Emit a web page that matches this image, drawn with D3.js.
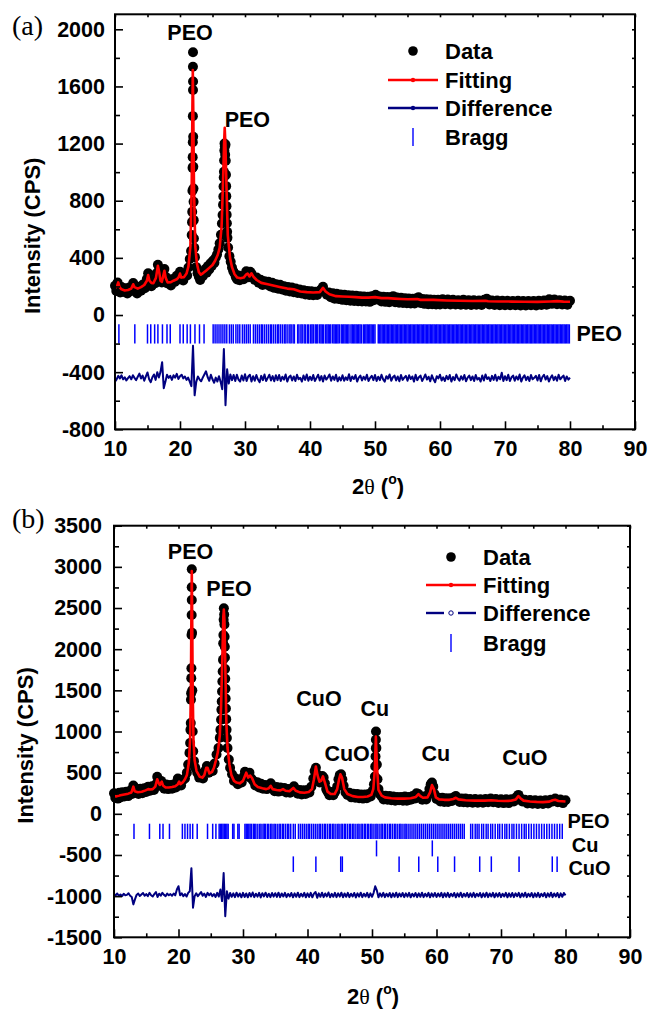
<!DOCTYPE html>
<html lang="en">
<head>
<meta charset="UTF-8">
<title>XRD refinement PEO / Cu / CuO</title>
<script src="https://cdn.jsdelivr.net/npm/d3@7"></script>
<style>
    body { margin: 0; background: #fff; }
    svg { display: block; }
    text { font-family: Arial, "Liberation Sans", sans-serif; font-weight: bold; fill: #000; }
    .serif { font-family: "Times New Roman", "Liberation Serif", serif; font-weight: normal; }
</style>
</head>
<body>
<script>
/*-------------------------------------------------------*/
/*------------------- data, panel (a) -------------------*/
/*-------------------------------------------------------*/
// observed points [2theta, counts]
const obsA = [
[10.0,205],[10.2,168],[10.4,228],[10.6,186],[10.8,158],[11.0,196],[11.3,162],[11.6,188],[11.9,150],[12.2,192],
[12.5,168],[12.8,224],[13.1,178],[13.4,150],[13.7,198],[14.0,170],[14.3,214],[14.6,188],[14.9,252],[15.1,292],
[15.3,236],[15.6,202],[15.9,244],[16.2,222],[16.4,292],[16.6,352],[16.8,318],[17.0,248],[17.2,228],[17.4,292],
[17.6,322],[17.8,268],[18.0,222],[18.3,248],[18.6,206],[18.9,252],[19.2,232],[19.5,274],[19.8,248],[20.0,302],
[20.2,268],[20.5,242],[20.8,292],[21.1,276],[21.3,332],[21.5,392],[21.7,448],[21.8,560],[21.85,650],[21.88,722],
[21.91,870],[21.93,1030],[21.95,1105],[21.97,1210],[21.98,1392],[22.0,1575],[22.01,1634],[21.99,1738],[22.0,1839],[22.03,1248],
[22.05,1038],[22.07,886],[22.09,792],[22.11,664],[22.14,536],[22.2,470],[22.3,405],[22.5,335],[22.7,292],[22.9,268],
[23.1,245],[23.3,292],[23.5,272],[23.7,302],[23.9,322],[24.1,296],[24.3,342],[24.5,318],[24.7,362],[24.9,344],
[25.1,382],[25.3,366],[25.5,402],[25.7,424],[25.9,458],[26.1,502],[26.3,562],[26.45,640],[26.55,700],[26.62,772],
[26.67,830],[26.7,900],[26.73,962],[26.76,1002],[26.79,1082],[26.82,1152],[26.85,1201],[26.9,1180],[26.95,1122],[27.0,1192],
[27.04,1080],[27.07,982],[27.1,902],[27.12,832],[27.15,762],[27.18,702],[27.21,642],[27.25,582],[27.3,540],[27.4,472],
[27.6,412],[27.8,372],[28.0,332],[28.2,306],[28.4,290],[28.6,264],[28.8,248],[29.0,276],[29.2,244],[29.5,266],
[29.8,250],[30.0,282],[30.2,306],[30.4,300],[30.6,264],[30.8,302],[31.0,290],[31.2,268],[31.5,246],[31.8,262],
[32.1,226],[32.4,246],[32.7,210],[33.0,236],[33.3,214],[33.6,232],[33.9,200],[34.2,226],[34.5,190],[34.8,216],
[35.1,184],[35.4,212],[35.7,178],[36.0,202],[36.3,170],[36.6,196],[36.9,164],[37.2,192],[37.5,160],[37.8,186],
[38.1,154],[38.4,178],[38.7,150],[39.0,174],[39.3,144],[39.6,168],[39.9,140],[40.2,166],[40.5,138],[40.8,162],
[41.1,140],[41.4,166],[41.7,178],[42.0,198],[42.3,162],[42.6,142],[42.9,158],[43.2,124],[43.5,152],[43.8,114],
[44.1,148],[44.4,112],[44.7,144],[45.0,106],[45.3,142],[45.6,104],[45.9,138],[46.2,100],[46.5,136],[46.8,98],
[47.1,134],[47.4,96],[47.7,132],[48.0,94],[48.3,130],[48.6,94],[48.9,128],[49.2,92],[49.5,132],[49.8,104],
[50.1,142],[50.4,108],[50.7,130],[51.0,94],[51.3,128],[51.6,92],[51.9,126],[52.2,90],[52.5,124],[52.8,132],
[53.1,90],[53.4,122],[53.7,86],[54.0,120],[54.3,84],[54.6,118],[54.9,82],[55.2,116],[55.5,80],[55.8,114],
[56.1,80],[56.4,118],[56.7,124],[57.0,84],[57.3,112],[57.6,78],[57.9,110],[58.2,76],[58.5,108],[58.8,76],
[59.1,106],[59.4,74],[59.7,106],[60.0,74],[60.4,110],[60.8,76],[61.2,108],[61.6,74],[62.0,106],[62.4,74],
[62.8,104],[63.2,72],[63.6,106],[64.0,72],[64.4,104],[64.8,70],[65.2,104],[65.6,72],[66.0,102],[66.4,70],
[66.8,106],[67.2,114],[67.6,74],[68.0,102],[68.4,70],[68.8,102],[69.2,68],[69.6,100],[70.0,68],[70.4,100],
[70.8,68],[71.2,98],[71.6,68],[72.0,100],[72.4,66],[72.8,98],[73.2,66],[73.6,98],[74.0,68],[74.4,98],
[74.8,66],[75.2,100],[75.6,70],[76.0,102],[76.4,72],[76.8,110],[77.2,78],[77.6,108],[78.0,76],[78.4,104],
[78.8,74],[79.2,102],[79.6,72],[80.0,100]
];

// calculated profile [2theta, counts]
const fitA = [
[10.0,190],[10.3,200],[10.5,228],[10.7,195],[11.0,180],[11.5,172],[12.0,175],[12.5,185],[12.8,215],[13.0,195],
[13.5,185],[14.0,195],[14.5,210],[14.9,240],[15.1,280],[15.3,240],[15.6,225],[15.9,222],[16.3,260],[16.6,345],
[16.8,300],[17.0,240],[17.2,232],[17.4,270],[17.6,310],[17.8,260],[18.1,228],[18.6,230],[19.0,240],[19.5,250],
[19.8,265],[20.0,290],[20.2,262],[20.6,265],[21.0,290],[21.3,340],[21.6,480],[21.8,900],[21.9,1400],[21.97,1715],
[22.05,1400],[22.15,900],[22.35,480],[22.6,360],[22.9,300],[23.2,282],[23.6,295],[24.0,310],[24.5,330],[25.0,350],
[25.4,380],[25.8,420],[26.1,470],[26.4,620],[26.6,900],[26.78,1200],[26.88,1310],[26.98,1200],[27.15,900],[27.35,560],
[27.7,400],[28.0,335],[28.4,285],[28.8,262],[29.3,258],[29.8,262],[30.2,285],[30.4,290],[30.7,270],[31.0,292],
[31.3,268],[31.8,245],[32.5,225],[33.5,215],[34.5,205],[35.5,195],[36.5,185],[37.5,180],[38.5,165],[39.5,160],
[40.5,158],[41.5,160],[42.0,190],[42.4,165],[43.0,145],[44.0,132],[45.0,130],[46.0,128],[47.0,125],[48.0,122],
[49.0,122],[50.0,125],[51.0,118],[52.0,118],[53.0,115],[54.0,112],[55.0,110],[56.5,112],[57.0,106],[59.0,106],
[61.0,102],[63.0,100],[65.0,98],[67.0,100],[67.4,96],[69.0,95],[71.0,94],[73.0,93],[75.0,92],[77.0,95],
[78.0,97],[79.0,94],[80.0,93]
];

// difference curve, scan 10 -> 80 deg, step 0.25 deg
const diffA_start = 10, diffA_step = 0.25;
const diffA = [
-466,-450,-426,-444,-422,-450,-436,-458,-442,-428,-450,-422,-440,-456,-432,-410,-444,-424,-460,-430,
-402,-450,-470,-436,-416,-454,-400,-438,-398,-330,-512,-468,-418,-440,-426,-454,-422,-438,-412,-448,
-428,-418,-444,-430,-454,-438,-466,-498,-215,-562,-468,-430,-450,-464,-438,-416,-394,-434,-460,-418,
-450,-474,-438,-466,-428,-468,-520,-238,-632,-380,-480,-416,-456,-420,-462,-418,-452,-466,-424,-458,
-414,-462,-430,-418,-466,-428,-460,-420,-452,-470,-426,-456,-416,-462,-440,-418,-458,-428,-464,-422,
-456,-420,-462,-432,-452,-416,-466,-436,-424,-458,-430,-462,-418,-450,-440,-466,-424,-454,-416,-460,
-432,-456,-420,-462,-440,-418,-458,-428,-466,-424,-452,-436,-416,-460,-430,-454,-418,-464,-436,-458,
-422,-460,-436,-454,-414,-462,-430,-448,-420,-466,-438,-424,-458,-432,-452,-418,-462,-440,-426,-456,
-420,-462,-432,-456,-418,-450,-466,-428,-446,-416,-460,-436,-424,-458,-430,-464,-420,-454,-438,-426,
-460,-422,-448,-430,-466,-418,-456,-436,-424,-462,-440,-416,-452,-432,-464,-422,-450,-470,-428,-444,
-418,-458,-436,-462,-426,-450,-420,-466,-434,-456,-416,-444,-460,-428,-452,-420,-464,-438,-424,-456,
-430,-462,-420,-452,-440,-466,-424,-458,-416,-448,-436,-462,-426,-454,-418,-460,-432,-450,-404,-462,
-428,-456,-418,-462,-436,-424,-460,-430,-452,-416,-466,-438,-422,-456,-432,-462,-420,-450,-440,-426,
-458,-420,-464,-434,-418,-452,-428,-466,-440,-422,-456,-432,-460,-418,-450,-436,-424,-462,-430,-452,
-438
];

// PEO Bragg positions (deg)
const braggA_PEO = [
10.6,13.05,15.0,15.5,16.1,16.6,17.3,18.0,18.5,20.0,20.5,21.1,21.6,22.3,23.0,23.7,
25.1,25.4,25.7,26.0,26.3,26.6,26.9,27.2,27.6,27.9,28.2,28.6,28.9,29.2,29.6,29.9,30.2,30.5,30.8,31.3,
31.6,31.9,32.2,32.5,32.7,33.0,33.3,33.6,33.9,34.1,34.4,34.7,35.0,35.2,35.5,35.8,36.1,36.3,36.6,36.9,
37.1,37.4,37.6,38.1,38.3,38.6,38.8,39.1,39.3,39.6,39.8,40.1,40.3,40.5,40.8,41.0,41.2,41.5,41.7,41.9,
42.1,42.4,42.6,42.8,43.0,43.2,43.5,43.7,43.9,44.1,44.3,44.5,44.8,45.0,45.2,45.4,45.6,45.8,46.0,46.3,
46.5,46.7,46.9,47.1,47.3,47.5,47.7,47.9,48.2,48.4,48.6,48.8,49.0,49.2,49.4,49.6,49.8,50.0,
50.5,50.7,50.9,51.1,51.3,51.5,51.7,51.9,52.1,52.3,52.5,52.7,52.9,53.1,53.3,53.5,53.7,53.9,54.1,54.3,54.5,
54.7,54.9,55.1,55.3,55.5,55.7,55.9,56.1,56.3,56.5,56.7,56.9,57.1,57.3,57.5,57.7,57.9,58.1,58.3,58.5,
58.7,58.9,59.1,59.3,59.5,59.7,59.9,60.1,60.3,60.5,60.7,60.9,61.1,61.3,61.5,61.7,61.9,62.1,62.3,62.5,
62.7,62.9,63.1,63.3,63.5,63.7,63.9,64.1,64.3,64.5,64.7,64.9,65.1,65.3,65.5,65.7,65.9,66.1,66.3,66.5,
66.7,66.9,67.1,67.3,67.5,67.7,67.9,68.1,68.3,68.5,68.7,68.9,69.1,69.3,69.5,69.7,69.9,70.1,70.3,70.5,
70.7,70.9,71.1,71.3,71.5,71.7,71.9,72.1,72.3,72.5,72.7,72.9,73.1,73.3,73.5,73.7,73.9,74.1,74.3,74.5,
74.7,74.9,75.1,75.3,75.5,75.7,75.9,76.1,76.3,76.5,76.7,76.9,77.1,77.3,77.5,77.7,77.9,78.1,78.3,78.5,
78.7,78.9,79.1,79.3,79.5,79.7,79.9
];

/*-------------------------------------------------------*/
/*------------------- data, panel (b) -------------------*/
/*-------------------------------------------------------*/
const obsB = [
[10.0,250],[10.2,195],[10.4,240],[10.6,185],[10.8,255],[11.0,200],[11.3,262],[11.6,210],[11.9,268],[12.2,215],
[12.5,280],[12.8,240],[13.0,345],[13.2,260],[13.5,300],[13.8,240],[14.1,305],[14.4,250],[14.7,310],[15.0,265],
[15.3,330],[15.6,280],[15.9,335],[16.2,290],[16.5,360],[16.7,450],[16.9,410],[17.1,340],[17.3,400],[17.5,370],
[17.8,305],[18.1,355],[18.4,300],[18.7,350],[19.0,305],[19.3,360],[19.6,320],[19.9,430],[20.1,400],[20.4,345],
[20.7,410],[21.0,430],[21.3,500],[21.5,600],[21.7,740],[21.8,860],[21.85,1020],[21.9,1102],[21.93,1385],[21.96,1466],
[21.98,1648],[22.0,1769],[22.02,2173],[22.04,2416],[22.06,2598],[22.05,2752],[22.06,2970],[22.1,2200],[22.14,1500],[22.2,1000],
[22.28,760],[22.4,640],[22.6,560],[22.9,500],[23.2,440],[23.5,480],[23.8,430],[24.1,520],[24.4,580],[24.7,500],
[25.0,540],[25.3,520],[25.6,610],[25.9,720],[26.2,800],[26.4,924],[26.5,1020],[26.6,1142],[26.65,1263],[26.7,1364],
[26.75,1486],[26.8,1607],[26.85,1728],[26.9,1870],[26.93,2072],[26.96,2173],[27.0,2356],[27.03,2498],[27.08,2420],[27.12,2300],
[27.15,2150],[27.18,2030],[27.2,1900],[27.22,1760],[27.25,1640],[27.28,1520],[27.31,1400],[27.35,1280],[27.4,1150],[27.45,1020],
[27.5,920],[27.6,800],[27.8,660],[28.0,560],[28.3,480],[28.6,400],[28.9,430],[29.2,360],[29.5,400],[29.8,380],
[30.1,450],[30.3,510],[30.5,490],[30.8,450],[31.0,500],[31.3,430],[31.6,400],[31.9,345],[32.2,385],[32.5,320],
[32.8,365],[33.1,305],[33.4,350],[33.7,300],[34.0,335],[34.3,370],[34.6,310],[34.9,275],[35.2,325],[35.5,270],
[35.8,320],[36.1,280],[36.4,315],[36.7,260],[37.0,300],[37.3,255],[37.6,300],[37.9,335],[38.2,290],[38.5,245],
[38.8,290],[39.1,235],[39.4,285],[39.7,240],[40.0,290],[40.3,260],[40.6,330],[40.9,430],[41.1,520],[41.3,560],
[41.5,480],[41.7,420],[41.9,380],[42.1,430],[42.3,460],[42.5,440],[42.7,370],[42.9,300],[43.1,270],[43.4,225],
[43.7,265],[44.0,225],[44.3,270],[44.6,330],[44.8,420],[45.0,470],[45.2,480],[45.4,420],[45.6,340],[45.9,260],
[46.2,230],[46.5,255],[46.8,200],[47.1,245],[47.4,195],[47.7,240],[48.0,190],[48.3,235],[48.6,185],[48.9,235],
[49.2,190],[49.5,240],[49.8,210],[50.1,280],[50.3,360],[50.45,454],[50.5,575],[50.55,697],[50.6,798],[50.6,899],
[50.62,1000],[50.68,800],[50.75,600],[50.85,420],[51.0,300],[51.2,240],[51.5,210],[51.8,175],[52.1,220],[52.4,170],
[52.7,215],[53.0,165],[53.3,210],[53.6,160],[53.9,205],[54.2,165],[54.5,205],[54.8,160],[55.1,210],[55.4,160],
[55.7,205],[56.0,170],[56.3,215],[56.6,185],[56.9,250],[57.2,240],[57.5,200],[57.8,170],[58.1,210],[58.4,175],
[58.7,230],[58.9,300],[59.1,360],[59.3,380],[59.5,330],[59.7,240],[60.0,180],[60.3,195],[60.6,150],[60.9,195],
[61.2,145],[61.5,190],[61.8,145],[62.1,190],[62.4,155],[62.7,200],[63.0,215],[63.3,175],[63.6,145],[63.9,185],
[64.2,140],[64.5,185],[64.8,138],[65.2,180],[65.6,135],[66.0,180],[66.4,135],[66.8,178],[67.2,135],[67.6,180],
[68.0,140],[68.4,185],[68.8,140],[69.2,180],[69.6,132],[70.0,176],[70.4,130],[70.8,176],[71.2,130],[71.6,178],
[72.0,150],[72.4,205],[72.7,230],[73.0,190],[73.3,150],[73.7,170],[74.1,125],[74.5,168],[74.9,122],[75.3,165],
[75.7,120],[76.1,162],[76.5,120],[76.9,164],[77.3,125],[77.7,172],[78.0,150],[78.4,185],[78.8,140],[79.2,175],
[79.6,130],[80.0,165]
];

const fitB = [
[10.0,215],[10.4,212],[11.0,225],[11.6,235],[12.2,245],[12.7,260],[13.0,330],[13.2,275],[13.7,262],[14.3,268],
[14.9,285],[15.3,300],[15.6,295],[16.0,300],[16.4,330],[16.7,420],[16.9,380],[17.1,350],[17.4,390],[17.6,345],
[18.0,320],[18.5,320],[19.0,325],[19.5,335],[19.9,360],[20.1,390],[20.3,360],[20.7,385],[21.0,420],[21.3,470],
[21.6,620],[21.8,900],[21.92,1500],[21.99,2300],[22.06,2950],[22.13,2300],[22.2,1500],[22.32,900],[22.5,650],[22.8,520],
[23.3,450],[23.7,440],[24.0,470],[24.3,560],[24.5,560],[24.8,490],[25.2,510],[25.5,560],[25.8,650],[26.1,750],
[26.4,950],[26.6,1300],[26.8,1900],[26.95,2400],[27.03,2480],[27.12,2350],[27.28,1700],[27.42,1100],[27.6,800],[27.9,600],
[28.2,470],[28.6,400],[29.0,380],[29.5,370],[30.0,400],[30.3,460],[30.5,500],[30.8,440],[31.1,465],[31.4,435],
[31.8,360],[32.3,325],[33.0,310],[33.6,300],[34.0,310],[34.3,340],[34.6,300],[35.2,290],[35.8,285],[36.2,300],
[36.6,280],[37.2,275],[37.8,315],[38.2,280],[38.8,260],[39.5,255],[40.2,265],[40.7,300],[41.0,420],[41.3,575],
[41.55,470],[41.85,390],[42.1,400],[42.4,455],[42.7,380],[43.1,270],[43.6,240],[44.2,240],[44.6,300],[44.9,420],
[45.1,480],[45.35,440],[45.7,300],[46.2,240],[47.0,215],[47.8,205],[48.6,205],[49.3,210],[49.9,230],[50.2,300],
[50.45,550],[50.6,940],[50.75,600],[51.0,290],[51.5,220],[52.0,200],[53.0,190],[54.0,185],[55.0,185],[56.0,190],
[56.8,205],[57.2,240],[57.5,215],[57.9,195],[58.6,200],[59.0,260],[59.3,350],[59.6,300],[59.9,200],[60.4,175],
[61.2,170],[62.0,170],[62.6,180],[63.0,195],[63.4,175],[64.5,165],[66.0,160],[67.5,160],[68.5,165],[69.5,158],
[70.5,155],[71.5,158],[72.3,175],[72.7,215],[73.0,190],[73.5,160],[74.5,150],[75.5,145],[76.5,142],[77.5,148],
[78.0,165],[78.4,170],[78.9,155],[80.0,150]
];

const diffB_start = 10, diffB_step = 0.25;
const diffB = [
-975,-990,-968,-995,-980,-1000,-972,-990,-985,-965,-995,-1010,-1100,-1040,-985,-968,-998,-980,-962,-995,
-975,-1000,-960,-990,-1005,-975,-950,-1010,-970,-995,-960,-985,-1000,-970,-990,-975,-995,-968,-990,-920,
-880,-990,-965,-1000,-975,-1005,-960,-940,-660,-1140,-1000,-965,-1000,-975,-950,-995,-970,-1010,-960,-990,
-965,-1000,-975,-1010,-960,-1005,-920,-1060,-720,-1245,-940,-1030,-962,-1008,-966,-1012,-958,-1006,-968,-1014,
-960,-1010,-968,-1014,-962,-1004,-956,-1012,-970,-1006,-960,-1016,-964,-1004,-958,-1010,-970,-1012,-962,-1006,
-964,-1010,-958,-1012,-968,-1004,-960,-1012,-972,-1004,-962,-1014,-966,-1008,-958,-1012,-970,-1004,-960,-1014,
-966,-1010,-960,-1014,-970,-950,-1020,-966,-1008,-958,-1012,-968,-1004,-956,-1014,-972,-1008,-960,-1012,-966,
-1006,-958,-1014,-968,-1008,-960,-1012,-970,-1004,-962,-1016,-966,-1006,-958,-1012,-970,-1004,-960,-1014,-966,
-1008,-960,-880,-930,-1014,-966,-1006,-960,-1012,-970,-1004,-962,-1014,-966,-1008,-958,-1012,-968,-1004,-962,
-1012,-966,-1006,-960,-1014,-970,-1004,-962,-1012,-966,-1008,-958,-1012,-970,-1004,-960,-1014,-966,-1006,-962,
-1010,-968,-1004,-960,-1014,-964,-1008,-960,-1012,-970,-1002,-962,-1014,-966,-1006,-958,-1012,-970,-1004,-962,
-1012,-966,-1008,-960,-1012,-970,-1002,-962,-1014,-966,-1008,-958,-1012,-968,-1004,-960,-1014,-966,-1006,-962,
-1012,-970,-1004,-960,-1014,-966,-1008,-962,-1012,-966,-1002,-960,-1014,-968,-1006,-958,-1012,-970,-1004,-962,
-1014,-966,-1008,-960,-1012,-970,-1002,-962,-1014,-966,-1006,-958,-1012,-968,-1004,-962,-1014,-966,-1008,-962,
-990
];

const braggB_PEO = [
13.1,15.5,17.1,17.6,18.6,20.6,21.0,21.4,21.8,22.2,22.9,24.5,25.3,25.8,
26.3,26.5,26.7,26.9,27.1,27.3,27.5,27.7,28.4,28.6,29.2,29.4,30.3,30.5,30.7,30.9,31.1,31.3,31.6,31.8,
32.0,32.3,32.6,32.8,33.1,33.3,33.5,33.8,34.0,34.3,34.5,34.8,35.0,35.3,35.6,35.8,36.1,36.3,36.6,36.9,
37.1,37.4,37.8,38.1,38.6,38.9,39.2,39.5,39.8,40.1,40.3,40.6,40.9,41.2,41.5,41.8,42.0,42.3,42.6,42.8,
43.1,43.4,43.6,43.9,44.1,44.4,44.7,44.9,45.2,45.4,45.7,45.9,46.2,46.5,46.7,47.0,47.2,47.5,47.8,48.0,
48.3,48.5,48.8,49.0,49.3,49.5,49.8,50.0,50.3,50.6,50.8,51.1,51.4,51.6,51.9,52.1,52.4,52.7,52.9,53.2,
53.5,53.7,54.0,54.3,54.5,54.8,55.1,55.3,55.6,55.9,56.2,56.5,56.8,57.1,57.4,57.7,58.0,58.3,58.6,58.9,
59.2,59.5,59.8,60.1,60.4,60.7,61.0,61.3,61.6,61.9,62.2,62.5,62.8,63.1,63.4,63.7,64.0,64.3,
65.3,65.6,66.0,66.3,66.6,67.0,67.3,67.7,68.0,68.4,68.7,69.1,69.5,69.8,70.2,70.6,70.9,71.3,71.7,72.0,
72.4,72.8,73.2,73.6,73.9,74.3,74.7,75.1,75.5,75.9,76.3,76.7,77.1,77.5,77.9,78.3,78.7,79.1,79.5
];
const braggB_Cu = [50.7, 59.35];
const braggB_CuO = [37.8, 41.3, 45.15, 45.4, 54.2, 57.25, 60.2, 62.8, 66.7, 68.5, 72.8, 77.95, 78.7];

// axis ticks
const xTicks = [10, 20, 30, 40, 50, 60, 70, 80, 90];
const yTicksA = [-800, -400, 0, 400, 800, 1200, 1600, 2000];
const yTicksB = [-1500, -1000, -500, 0, 500, 1000, 1500, 2000, 2500, 3000, 3500];

// peak / phase labels [text, 2theta, counts]
const labelsA = [["PEO", 21.55, 1979], ["PEO", 30.36, 1370]];
const phaseLabelsA = [["PEO", 81.0, -132]];
const labelsB = [["PEO", 21.87, 3181], ["PEO", 27.83, 2732], ["CuO", 41.78, 1397], ["Cu", 50.45, 1276],
                 ["CuO", 46.14, 730], ["Cu", 59.9, 730], ["CuO", 73.7, 681]];
const phaseLabelsB = [["PEO", 80.3, -86], ["Cu", 80.96, -378], ["CuO", 80.45, -660]];

/*-------------------------------------------------------*/
/*------------------------ drawing ----------------------*/
/*-------------------------------------------------------*/
const svg = d3.select("body").append("svg")
    .attr("width", 648)
    .attr("height", 1010);

function drawPanel(p) {
    const x = d3.scaleLinear().domain([10, 90]).range([p.left, p.right]);
    const y = d3.scaleLinear().domain(p.yDomain).range([p.bottom, p.top]);
    const g = svg.append("g");

    // observed points
    g.append("g").selectAll("circle")
        .data(p.obs)
        .join("circle")
        .attr("cx", d => x(d[0]))
        .attr("cy", d => y(d[1]))
        .attr("r", 5)
        .attr("fill", "#000");

    const line = d3.line().x(d => x(d[0])).y(d => y(d[1]));

    // fitted profile
    g.append("path")
        .datum(p.fit)
        .attr("d", line)
        .attr("fill", "none")
        .attr("stroke", "#ff0000")
        .attr("stroke-width", 2.6)
        .attr("stroke-linejoin", "round");

    // difference
    const diffPts = p.diff.map((v, i) => [p.diffStart + i * p.diffStep, v]);
    g.append("path")
        .datum(diffPts)
        .attr("d", line)
        .attr("fill", "none")
        .attr("stroke", "#000080")
        .attr("stroke-width", 2)
        .attr("stroke-linejoin", "round");

    // bragg ticks
    p.bragg.forEach(b => {
        g.append("g").selectAll("line")
            .data(b.pos)
            .join("line")
            .attr("x1", d => x(d)).attr("x2", d => x(d))
            .attr("y1", y(b.hi)).attr("y2", y(b.lo))
            .attr("stroke", "#0000ff")
            .attr("stroke-width", 1.5);
    });

    // labels on peaks and next to tick rows
    g.append("g").selectAll("text")
        .data(p.labels)
        .join("text")
        .attr("x", d => x(d[1]))
        .attr("y", d => y(d[2]))
        .attr("dy", "0.35em")
        .attr("text-anchor", "middle")
        .attr("font-size", 21.5)
        .text(d => d[0]);
    g.append("g").selectAll("text")
        .data(p.phaseLabels)
        .join("text")
        .attr("x", d => x(d[1]))
        .attr("y", d => y(d[2]))
        .attr("dy", "0.35em")
        .attr("font-size", p.phaseSize)
        .text(d => d[0]);

    // axes
    const styleAxis = sel => {
        sel.select(".domain").remove();
        sel.selectAll("line").attr("stroke", "#000").attr("stroke-width", 1.6);
        sel.selectAll("text")
            .attr("font-size", 21.5)
            .attr("font-family", "Arial, 'Liberation Sans', sans-serif")
            .attr("font-weight", "bold");
    };
    const fmt = d => String(d);
    const xMinor = d3.range(15, 90, 10);
    const yMinor = d3.range(p.yDomain[0] + p.yStep / 2, p.yTicks[p.yTicks.length - 1], p.yStep);
    const xAll = d3.range(10, 91, 5);

    g.append("g").attr("transform", `translate(0,${p.bottom})`)
        .call(d3.axisBottom(x).tickValues(xTicks).tickSize(-8).tickPadding(11).tickFormat(fmt))
        .call(styleAxis);
    g.append("g").attr("transform", `translate(0,${p.bottom})`)
        .call(d3.axisBottom(x).tickValues(xMinor).tickSize(-4).tickFormat(""))
        .call(styleAxis);
    g.append("g").attr("transform", `translate(${p.left},0)`)
        .call(d3.axisLeft(y).tickValues(p.yTicks).tickSize(-8).tickPadding(p.yPad).tickFormat(fmt))
        .call(styleAxis);
    g.append("g").attr("transform", `translate(${p.left},0)`)
        .call(d3.axisLeft(y).tickValues(yMinor).tickSize(-5).tickFormat(""))
        .call(styleAxis);
    g.append("g").attr("transform", `translate(0,${p.top})`)
        .call(d3.axisTop(x).tickValues(xAll).tickSize(-3).tickFormat(""))
        .call(styleAxis);
    g.append("g").attr("transform", `translate(${p.right},0)`)
        .call(d3.axisRight(y).tickValues(p.yTicks.concat(yMinor)).tickSize(-3).tickFormat(""))
        .call(styleAxis);

    g.append("rect")
        .attr("x", p.left).attr("y", p.top)
        .attr("width", p.right - p.left).attr("height", p.bottom - p.top)
        .attr("fill", "none").attr("stroke", "#000").attr("stroke-width", 2);

    // axis titles
    g.append("text")
        .attr("transform", `translate(${p.yTitleX},${(p.top + p.bottom) / 2 + 14}) rotate(-90)`)
        .attr("text-anchor", "middle")
        .attr("dy", "0.35em")
        .attr("font-size", 22)
        .text("Intensity (CPS)");

    const xt = g.append("text")
        .attr("x", p.xTitleX)
        .attr("y", p.xTitleY)
        .attr("text-anchor", "middle")
        .attr("font-size", 22);
    xt.append("tspan").text("2");
    xt.append("tspan").attr("class", "serif").text("\u03b8");
    xt.append("tspan").text(" (");
    xt.append("tspan").attr("font-size", 14).attr("dy", -10).text("o");
    xt.append("tspan").attr("dy", 10).text(")");

    // panel letter
    g.append("text")
        .attr("class", "serif")
        .attr("x", 12)
        .attr("y", p.letterY)
        .attr("font-size", 28)
        .text(p.letter);

    // legend
    const L = p.legend;
    const rows = ["Data", "Fitting", "Difference", "Bragg"];
    rows.forEach((r, i) => {
        g.append("text")
            .attr("x", L.textX)
            .attr("y", L.rows[i])
            .attr("dy", "0.35em")
            .attr("font-size", 22)
            .text(r);
    });
    g.append("circle").attr("cx", L.symX).attr("cy", L.rows[0]).attr("r", 4.8).attr("fill", "#000");
    g.append("line").attr("x1", L.symX - 25).attr("x2", L.symX + 25)
        .attr("y1", L.rows[1]).attr("y2", L.rows[1])
        .attr("stroke", "#ff0000").attr("stroke-width", 2.4);
    g.append("circle").attr("cx", L.symX).attr("cy", L.rows[1]).attr("r", 2.2).attr("fill", "#ff0000");
    if (L.dashedDiff) {
        [[-25, -7], [7, 25]].forEach(s => {
            g.append("line").attr("x1", L.symX + s[0]).attr("x2", L.symX + s[1])
                .attr("y1", L.rows[2]).attr("y2", L.rows[2])
                .attr("stroke", "#000080").attr("stroke-width", 2.4);
        });
        g.append("circle").attr("cx", L.symX).attr("cy", L.rows[2]).attr("r", 2.2)
            .attr("fill", "#fff").attr("stroke", "#000080").attr("stroke-width", 1);
    } else {
        g.append("line").attr("x1", L.symX - 25).attr("x2", L.symX + 25)
            .attr("y1", L.rows[2]).attr("y2", L.rows[2])
            .attr("stroke", "#000080").attr("stroke-width", 2.4);
        g.append("circle").attr("cx", L.symX).attr("cy", L.rows[2]).attr("r", 2.2).attr("fill", "#000080");
    }
    g.append("line").attr("x1", L.symX).attr("x2", L.symX)
        .attr("y1", L.rows[3] - 9).attr("y2", L.rows[3] + 9)
        .attr("stroke", "#0000ff").attr("stroke-width", 1.4);
}

// panel (a)
drawPanel({
    left: 115, right: 635, top: 14.3, bottom: 429.3,
    yDomain: [-800, 2105], yTicks: yTicksA, yStep: 400, yPad: 10,
    obs: obsA, fit: fitA, diff: diffA, diffStart: diffA_start, diffStep: diffA_step,
    bragg: [{pos: braggA_PEO, hi: -65, lo: -200}],
    labels: labelsA, phaseLabels: phaseLabelsA, phaseSize: 21.5,
    yTitleX: 32, xTitleX: 378, xTitleY: 494,
    letter: "(a)", letterY: 35,
    legend: {symX: 413, textX: 445, rows: [51, 80, 108, 137], dashedDiff: false}
});

// panel (b)
drawPanel({
    left: 114, right: 630, top: 525.7, bottom: 937.3,
    yDomain: [-1500, 3500], yTicks: yTicksB, yStep: 500, yPad: 12,
    obs: obsB, fit: fitB, diff: diffB, diffStart: diffB_start, diffStep: diffB_step,
    bragg: [{pos: braggB_PEO, hi: -120, lo: -306},
            {pos: braggB_Cu, hi: -323, lo: -517},
            {pos: braggB_CuO, hi: -517, lo: -706}],
    labels: labelsB, phaseLabels: phaseLabelsB, phaseSize: 20,
    yTitleX: 25, xTitleX: 373, xTitleY: 1004,
    letter: "(b)", letterY: 528,
    legend: {symX: 451, textX: 483, rows: [557, 585, 613, 643], dashedDiff: true}
});
</script>
</body>
</html>
